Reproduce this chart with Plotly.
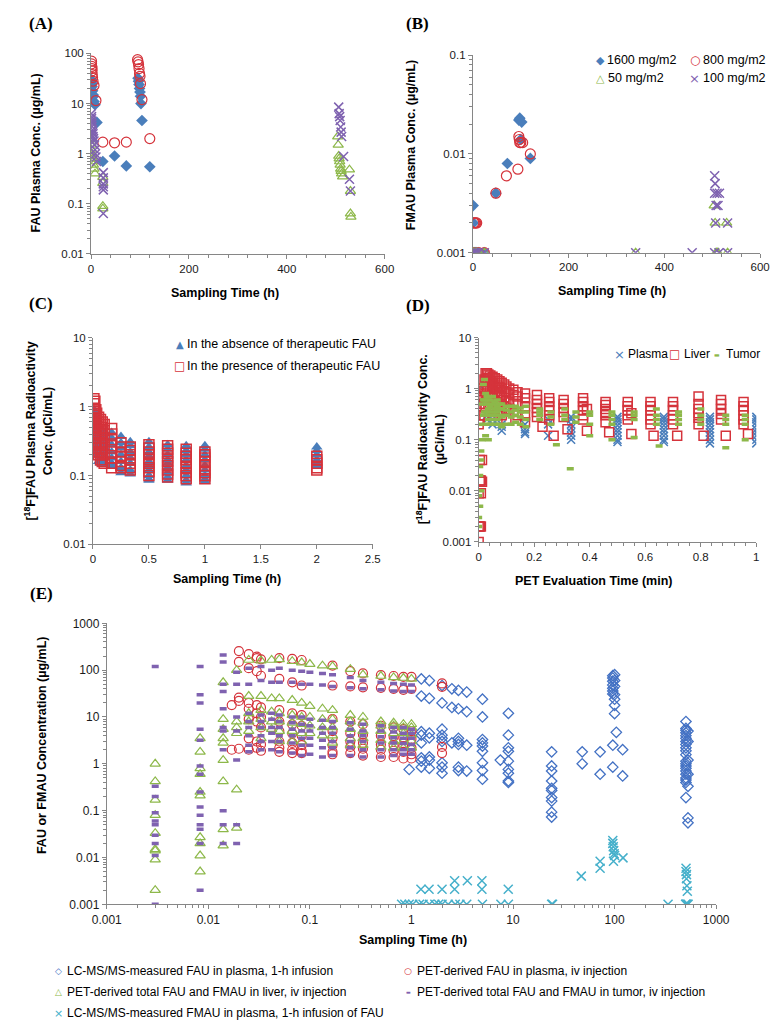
import plotly.graph_objects as go

W, H = 778, 1020
FONT = "Liberation Sans, Arial, sans-serif"

BLUE = "#4a7ebb"
RED = "#d5333b"
GREEN = "#8db84a"
PURPLE = "#7f62b0"
CYAN = "#46b0cb"
AXIS = "#868686"

# ---------------- (A) FAU plasma conc. ----------------
a_1600_t = [0.5, 1, 1.5, 2, 3, 4, 5, 6, 8, 12, 24, 48, 72, 96, 97, 98, 99, 100, 101, 102, 104, 120]
a_1600_y = [30, 27, 25, 22, 18, 15, 14, 11, 9.5, 4.2, 0.7, 0.9, 0.57, 32, 28, 24, 20, 17, 14, 10, 4.6, 0.55]
a_800_t = [1, 1, 1.5, 2, 2, 2.5, 3, 4, 6, 10, 24, 48, 72, 95, 96, 97, 98, 99, 100, 101, 104, 120]
a_800_y = [70, 62, 55, 50, 45, 38, 33, 28, 23, 11.5, 1.7, 1.65, 1.7, 75, 68, 60, 50, 40, 35, 25, 12, 2.0]
a_50_t = [0.5, 1, 1, 2, 2, 3, 4, 5, 6, 8, 24, 24, 24, 24,
          504, 505, 506, 507, 508, 509, 510, 511, 512, 514, 528, 530, 530, 531]
a_50_y = [2.0, 1.5, 1.2, 1.0, 0.9, 0.8, 0.7, 0.6, 0.5, 0.4, 0.34, 0.26, 0.09, 0.08,
          2.2, 1.5, 0.9, 0.8, 0.7, 0.6, 0.5, 0.45, 0.4, 0.35, 0.48, 0.18, 0.064, 0.055]
a_100_t = [0.5, 1, 1, 1.5, 2, 2, 3, 3, 4, 4, 5, 6, 7, 8, 9, 10, 11,
           25, 25, 25, 25, 25, 25, 506, 507, 508, 509, 510, 511, 512, 516, 528, 530]
a_100_y = [6.3, 5.5, 5.0, 4.5, 4.0, 3.5, 3.0, 2.7, 2.5, 2.2, 2.0, 1.8, 1.5, 1.2, 1.0, 0.86, 0.7,
           0.42, 0.33, 0.25, 0.22, 0.19, 0.064, 8.5, 6.3, 5.5, 4.6, 3.4, 2.7, 2.2, 0.88, 0.31, 0.18]

# ---------------- (B) FMAU plasma conc. ----------------
b_1600_t = [0.5, 1, 2, 4, 6, 8, 12, 24, 48, 72, 96, 98, 100, 102, 120]
b_1600_y = [0.003, 0.002, 0.001, 0.001, 0.001, 0.001, 0.001, 0.001, 0.004, 0.008, 0.022, 0.023, 0.014, 0.021, 0.009]
b_800_t = [2, 4, 6, 8, 1, 12, 24, 48, 70, 94, 96, 97, 98, 100, 104, 120]
b_800_y = [0.002, 0.002, 0.002, 0.002, 0.001, 0.001, 0.001, 0.004, 0.006, 0.007, 0.015, 0.014, 0.013, 0.013, 0.013, 0.01]
b_50_t = [1, 2, 4, 8, 12, 24, 340, 504, 506, 508, 510, 512, 530, 532]
b_50_y = [0.001, 0.001, 0.001, 0.001, 0.001, 0.001, 0.001, 0.003, 0.002, 0.001, 0.001, 0.001, 0.002, 0.001]
b_100_t = [1, 2, 4, 8, 12, 24, 340, 458, 505, 506, 505, 510, 515, 508, 512, 507, 505, 514, 532, 532]
b_100_y = [0.001, 0.001, 0.001, 0.001, 0.001, 0.001, 0.001, 0.001, 0.006, 0.005, 0.004, 0.004, 0.004,
           0.003, 0.003, 0.002, 0.001, 0.001, 0.002, 0.001]

# ---------------- (C) [18F]FAU plasma radioactivity ----------------
c_t = [0.0083, 0.0167, 0.025, 0.033, 0.05, 0.067, 0.083, 0.1, 0.167, 0.25, 0.333, 0.5, 0.667, 0.833, 1.0, 2.0]
c_absent = [
    [0.9, 0.7, 0.5, 0.35, 0.25, 0.22],
    [0.8, 0.6, 0.45, 0.35, 0.28, 0.2],
    [0.7, 0.55, 0.42, 0.3, 0.22],
    [0.6, 0.5, 0.4, 0.3, 0.2],
    [0.55, 0.45, 0.35, 0.28, 0.2, 0.16],
    [0.5, 0.4, 0.32, 0.25, 0.18, 0.15],
    [0.45, 0.38, 0.3, 0.22, 0.17, 0.15],
    [0.4, 0.32, 0.26, 0.2, 0.15],
    [0.42, 0.35, 0.28, 0.22, 0.18, 0.15, 0.14],
    [0.37, 0.3, 0.25, 0.2, 0.16, 0.13, 0.11],
    [0.31, 0.27, 0.22, 0.18, 0.15, 0.12, 0.105],
    [0.31, 0.26, 0.22, 0.19, 0.16, 0.14, 0.12, 0.1, 0.088, 0.085],
    [0.28, 0.24, 0.2, 0.17, 0.15, 0.13, 0.11, 0.095, 0.085],
    [0.27, 0.23, 0.2, 0.17, 0.14, 0.12, 0.1, 0.085, 0.078],
    [0.27, 0.24, 0.2, 0.17, 0.14, 0.12, 0.1, 0.088, 0.082],
    [0.26, 0.23, 0.2, 0.17, 0.15, 0.14],
]
c_present = [
    [1.3, 1.1, 0.95, 0.8, 0.65, 0.5],
    [1.2, 0.9, 0.75, 0.6, 0.5, 0.4, 0.3],
    [0.9, 0.75, 0.6, 0.5, 0.4, 0.3, 0.25],
    [0.8, 0.65, 0.55, 0.45, 0.35, 0.28, 0.22],
    [0.7, 0.6, 0.5, 0.4, 0.3, 0.25, 0.2],
    [0.65, 0.55, 0.45, 0.35, 0.28, 0.22, 0.17],
    [0.6, 0.5, 0.4, 0.3, 0.25, 0.2, 0.16],
    [0.55, 0.45, 0.35, 0.28, 0.2, 0.15],
    [0.48, 0.4, 0.33, 0.27, 0.22, 0.18, 0.15, 0.13],
    [0.3, 0.26, 0.22, 0.19, 0.16, 0.14, 0.13],
    [0.26, 0.23, 0.2, 0.17, 0.15, 0.13, 0.12],
    [0.28, 0.25, 0.22, 0.2, 0.17, 0.15, 0.13, 0.115, 0.1],
    [0.27, 0.24, 0.21, 0.18, 0.16, 0.14, 0.12, 0.105, 0.095],
    [0.24, 0.21, 0.19, 0.17, 0.15, 0.13, 0.11, 0.1, 0.09],
    [0.22, 0.2, 0.18, 0.16, 0.14, 0.12, 0.11, 0.1, 0.09],
    [0.19, 0.17, 0.15, 0.13, 0.12],
]

# ---------------- (D) PET radioactivity ----------------
d_plasma_t = [0.021, 0.03, 0.05, 0.083, 0.167, 0.25, 0.333, 0.5, 0.667, 0.833, 1.0]
d_plasma = [
    [1.2, 1.5],
    [0.25, 0.3],
    [0.2, 0.25],
    [0.15, 0.18, 0.2],
    [0.13, 0.14, 0.16, 0.2],
    [0.12, 0.2, 0.25],
    [0.1, 0.12, 0.14, 0.17, 0.2, 0.25, 0.28],
    [0.09, 0.1, 0.12, 0.14, 0.16, 0.19, 0.22, 0.25, 0.28],
    [0.09, 0.1, 0.12, 0.14, 0.16, 0.19, 0.22, 0.25, 0.28],
    [0.085, 0.1, 0.12, 0.14, 0.16, 0.19, 0.22, 0.25, 0.28],
    [0.085, 0.1, 0.12, 0.14, 0.16, 0.19, 0.22, 0.25, 0.28],
]
d_liver_t = [0.0, 0.004, 0.008, 0.012, 0.017, 0.021, 0.025, 0.03, 0.035, 0.042, 0.05, 0.058, 0.067,
             0.075, 0.083, 0.092, 0.1, 0.11, 0.125, 0.14, 0.167, 0.21, 0.23, 0.254, 0.27, 0.306, 0.32,
             0.376, 0.39, 0.457, 0.47, 0.537, 0.55, 0.619, 0.63, 0.70, 0.715, 0.792, 0.81, 0.873, 0.89,
             0.954, 0.97]
d_liver = [
    [0.001, 0.002, 0.009, 0.2], [0.002, 0.016, 0.04, 0.25], [0.002, 0.009, 0.016, 0.5],
    [0.04, 0.015, 0.7], [1.0, 0.6, 0.3], [1.5, 0.9, 0.5, 0.3], [2.0, 1.4, 0.8, 0.45],
    [2.0, 1.6, 1.0, 0.6], [1.9, 1.5, 1.1, 0.7, 0.5], [1.8, 1.4, 1.0, 0.7, 0.45],
    [1.7, 1.3, 0.9, 0.65, 0.45], [1.6, 1.2, 0.85, 0.6, 0.4], [1.5, 1.1, 0.8, 0.55, 0.35],
    [1.4, 1.05, 0.75, 0.5, 0.35], [1.3, 1.0, 0.7, 0.5, 0.3], [1.2, 0.9, 0.65, 0.45],
    [1.1, 0.85, 0.6, 0.4, 0.25], [1.0, 0.8, 0.55, 0.4], [0.95, 0.75, 0.5, 0.35],
    [0.85, 0.7, 0.5, 0.3], [0.8, 0.65, 0.45, 0.3, 0.22],
    [0.75, 0.6, 0.5, 0.42, 0.35, 0.28], [0.18],
    [0.65, 0.55, 0.45, 0.38, 0.3, 0.25], [0.12],
    [0.6, 0.5, 0.42, 0.35, 0.28], [0.16],
    [0.65, 0.55, 0.45, 0.38, 0.3, 0.25], [0.4, 0.15],
    [0.55, 0.48, 0.4, 0.35, 0.3, 0.22], [0.14],
    [0.55, 0.45, 0.38, 0.3, 0.25], [0.33, 0.13],
    [0.55, 0.45, 0.38, 0.3, 0.25, 0.2], [0.12],
    [0.55, 0.45, 0.38, 0.3, 0.25, 0.2], [0.12],
    [0.7, 0.5, 0.4, 0.33, 0.27, 0.2], [0.12],
    [0.6, 0.5, 0.4, 0.32, 0.25], [0.12],
    [0.55, 0.45, 0.38, 0.3, 0.25, 0.2], [0.13],
]
d_tumor_t = [0.0, 0.004, 0.008, 0.012, 0.017, 0.021, 0.025, 0.03, 0.035, 0.042, 0.05, 0.058, 0.067,
             0.075, 0.083, 0.1, 0.117, 0.133, 0.15, 0.17, 0.22, 0.26, 0.28, 0.31, 0.33, 0.35, 0.40,
             0.48, 0.56, 0.64, 0.65, 0.72, 0.80, 0.89, 0.96]
d_tumor = [
    [0.002, 0.003, 0.008], [0.005, 0.02, 0.03], [0.01, 0.04, 0.06], [0.1, 0.2, 0.5],
    [0.3, 0.6, 1.2], [0.35, 0.6, 1.5], [0.12, 0.3, 0.5, 0.8], [0.2, 0.35, 0.5, 0.7],
    [0.1, 0.25, 0.4, 0.6], [0.2, 0.3, 0.45, 0.6], [0.25, 0.35, 0.5, 0.7],
    [0.2, 0.3, 0.4, 0.55], [0.25, 0.35, 0.45, 0.6], [0.2, 0.3, 0.4, 0.5],
    [0.18, 0.28, 0.4, 0.5], [0.2, 0.3, 0.38, 0.45], [0.2, 0.28, 0.35, 0.45],
    [0.22, 0.3, 0.38, 0.45], [0.2, 0.28, 0.35, 0.42], [0.18, 0.25, 0.35, 0.45],
    [0.25, 0.3, 0.35, 0.4], [0.2, 0.28, 0.35], [0.08], [0.25, 0.3, 0.4], [0.027],
    [0.22, 0.28, 0.35], [0.12, 0.2, 0.3, 0.35], [0.1, 0.2, 0.25, 0.3, 0.35],
    [0.11, 0.25, 0.3, 0.35], [0.2, 0.25, 0.3, 0.4], [0.075], [0.2, 0.25, 0.3, 0.35],
    [0.2, 0.25, 0.3, 0.4], [0.07, 0.2, 0.25, 0.3], [0.1, 0.2, 0.25, 0.3],
]

# ---------------- (E) combined ----------------
e_lc_t = [0.95, 1.25, 1.5, 2.0, 2.5, 2.9, 3.5, 5.0, 7.5, 9.0, 24, 48, 72, 96, 100, 104, 120, 504, 528]
e_lc = [
    [0.76],
    [65, 28, 4.85, 4.1, 2.8, 1.34, 1.14, 0.85],
    [60, 25, 4.5, 3.6, 1.4, 1.2, 0.8],
    [47, 20, 5.5, 4.1, 3.5, 3.0, 1.05, 0.85, 0.63],
    [40, 16, 2.8],
    [37, 15, 3.5, 3.0, 2.6, 0.85, 0.72],
    [34, 13, 2.5, 0.7],
    [24, 10, 3.3, 2.8, 2.4, 1.85, 1.05, 0.72, 0.47],
    [1.2],
    [12, 4.1, 2.2, 1.85, 1.14, 0.76, 0.63, 0.43, 0.4],
    [1.8, 0.9, 0.7, 0.43, 0.3, 0.27, 0.19, 0.16, 0.093, 0.073],
    [1.8, 1.0],
    [1.8, 0.6],
    [76, 68, 58, 48, 41, 36, 31, 2.5, 0.85],
    [80, 60, 45, 30, 24, 17.8, 11.8],
    [4.7],
    [2.0, 0.55],
    [8, 5.7, 5.2, 4.6, 4.0, 3.5, 3.0, 2.6, 2.2, 1.9, 1.57, 1.14, 1.0, 0.9, 0.8, 0.7, 0.6, 0.5, 0.45, 0.4, 0.19],
    [5, 3, 1.2, 0.6, 0.33, 0.07, 0.055],
]
e_plasma_t = [0.017, 0.02, 0.025, 0.03, 0.033, 0.05, 0.067, 0.083, 0.167, 0.25, 0.333, 0.5, 0.667, 0.833, 1.0, 2.0]
e_plasma = [
    [18, 2.0],
    [255, 150, 26, 22, 2.1],
    [220, 110, 20, 15, 9, 3.5, 2.0],
    [195, 180, 95, 18, 12, 8, 3, 2.2],
    [170, 76, 16, 10, 6, 2.6, 1.9],
    [180, 65, 14, 8, 5, 3, 2.2, 1.8],
    [175, 55, 12, 7, 4.5, 2.8, 2.0, 1.7],
    [165, 47, 11, 6.5, 4, 2.5, 1.9, 1.7],
    [125, 47, 9, 5, 3.5, 2.5, 1.8, 1.6],
    [95, 45, 8, 4.5, 3, 2.3, 1.7],
    [85, 43, 7, 4.2, 2.8, 2.1, 1.5],
    [78, 42, 6.5, 4, 2.6, 2.0, 1.4],
    [75, 40, 6, 3.8, 2.5, 1.9, 1.4],
    [72, 38, 5.5, 3.6, 2.4, 1.8, 1.3],
    [72, 40, 5, 3.4, 2.2, 1.6, 1.3],
    [52, 44, 2.3, 1.7],
]
e_pet_t = [0.003, 0.0083, 0.014, 0.019, 0.025, 0.033, 0.042, 0.05, 0.067, 0.083, 0.1, 0.133, 0.167,
           0.25, 0.333, 0.5, 0.667, 0.833, 1.0]
e_liver = [
    [1.0, 0.42, 0.17, 0.08, 0.033, 0.015, 0.014, 0.009, 0.002],
    [3.5, 1.8, 0.8, 0.6, 0.25, 0.21, 0.027, 0.02, 0.011, 0.005],
    [55, 9, 5.5, 3.5, 2.8, 1.2, 0.42, 0.04, 0.018],
    [100, 8, 6, 4.5, 0.28, 0.043],
    [165, 28, 12, 8, 5],
    [160, 28, 14, 9, 6, 3.5],
    [165, 25, 13, 8, 5.5],
    [170, 25, 12, 8, 5, 3],
    [155, 23, 11, 7.5, 5, 3],
    [145, 20, 10, 7, 4.5, 3],
    [135, 17, 10, 6.5, 4.5],
    [125, 15, 9, 6, 4],
    [120, 14, 9, 6, 4, 2.8],
    [105, 11, 8, 5.5, 3.5, 2.5],
    [80, 10, 7.5, 5, 3.5, 2.5],
    [75, 8, 6.5, 5, 3.2, 2.3],
    [70, 7.5, 6.5, 4.5, 3, 2.2],
    [68, 7, 6, 4.5, 3, 2.2],
    [65, 7, 6, 4.2, 3, 2.2],
]
e_tumor = [
    [120, 0.33, 0.2, 0.09, 0.06, 0.05, 0.03, 0.02, 0.011, 0.001],
    [120, 30, 20, 5.5, 3.2, 0.9, 0.6, 0.25, 0.12, 0.08, 0.05, 0.04, 0.02, 0.002],
    [210, 150, 50, 35, 15, 6, 5, 2, 0.1, 0.05, 0.02],
    [90, 50, 10, 5, 1.2, 0.05, 0.02],
    [110, 50, 12, 8, 6, 4, 2.5, 1.8],
    [120, 60, 11, 8, 6, 4, 3, 2],
    [100, 55, 12, 9, 6, 4.5, 3, 2],
    [110, 55, 11, 8, 6, 4, 3, 1.8],
    [100, 55, 10, 7.5, 5.5, 4, 2.8, 1.7],
    [95, 50, 10, 7, 5, 3.5, 2.5, 1.5],
    [90, 50, 9, 6.5, 5, 3.5, 2.5, 1.6],
    [85, 48, 8.5, 6, 4.5, 3.2, 2.2, 1.4],
    [80, 45, 8, 6, 4.5, 3, 2.2, 1.5],
    [70, 42, 7.5, 5.5, 4, 3, 2.2, 1.5],
    [60, 40, 7, 5, 4, 3, 2, 1.4],
    [55, 38, 6.5, 5, 3.8, 2.8, 2, 1.4],
    [52, 36, 6, 4.8, 3.6, 2.8, 2, 1.5],
    [50, 35, 6, 4.5, 3.5, 2.7, 2, 1.6],
    [48, 35, 5.5, 4.5, 3.5, 2.6, 2, 1.6],
]
e_fmau_t = [0.8, 0.86, 0.95, 1.03, 1.2, 1.3, 1.5, 1.7, 1.85, 2.0, 2.3, 2.7, 3.0, 3.5, 5.0, 7.6, 9.0, 24, 24.5,
            1.24, 1.49, 2.0, 2.66, 4.94, 8.97, 2.66, 3.55, 4.94, 47, 72, 72,
            96, 96, 97, 98, 99, 100, 97.5, 121, 336, 500, 505, 510, 520, 530,
            505, 505, 510, 510, 515, 520]
e_fmau_y = [0.001, 0.001, 0.001, 0.001, 0.001, 0.001, 0.001, 0.001, 0.001, 0.001, 0.001, 0.001, 0.001,
            0.001, 0.001, 0.001, 0.001, 0.001, 0.001,
            0.0021, 0.0021, 0.0021, 0.0021, 0.0021, 0.0021, 0.0032, 0.0032, 0.0032, 0.004, 0.0083, 0.0059,
            0.023, 0.02, 0.017, 0.014, 0.012, 0.011, 0.0083, 0.0098, 0.001, 0.001, 0.001, 0.001, 0.001, 0.001,
            0.0059, 0.005, 0.0043, 0.0035, 0.0025, 0.0019]


def flat(ts, groups):
    xs, ys = [], []
    for t, vals in zip(ts, groups):
        for v in vals:
            xs.append(t)
            ys.append(v)
    return xs, ys


fig = go.Figure()


def add(x, y, ax, symbol, color, size, lw=1.2, filled=False):
    if filled:
        marker = dict(symbol=symbol, size=size, color=color, line=dict(width=0))
    else:
        marker = dict(symbol=symbol, size=size, color=color, line=dict(color=color, width=lw))
    fig.add_trace(go.Scatter(x=x, y=y, mode="markers", marker=marker, showlegend=False,
                             xaxis="x" + ax, yaxis="y" + ax, hoverinfo="x+y"))


# A
add(a_1600_t, a_1600_y, "", "diamond", BLUE, 9, filled=True)
add(a_800_t, a_800_y, "", "circle-open", RED, 10)
add(a_50_t, a_50_y, "", "triangle-up-open", GREEN, 9)
add(a_100_t, a_100_y, "", "x-thin-open", PURPLE, 9, lw=1.5)
# B
add(b_1600_t, b_1600_y, "2", "diamond", BLUE, 9, filled=True)
add(b_800_t, b_800_y, "2", "circle-open", RED, 10)
add(b_50_t, b_50_y, "2", "triangle-up-open", GREEN, 9)
add(b_100_t, b_100_y, "2", "x-thin-open", PURPLE, 9, lw=1.5)
# C
cx, cy = flat(c_t, c_absent)
add(cx, cy, "3", "triangle-up", BLUE, 10, filled=True)
cx, cy = flat(c_t, c_present)
add(cx, cy, "3", "square-open", RED, 10, lw=1.5)
# D
dx, dy = flat(d_plasma_t, d_plasma)
add(dx, dy, "4", "x-thin-open", BLUE, 8, lw=1.5)
dx, dy = flat(d_liver_t, d_liver)
add(dx, dy, "4", "square-open", RED, 9, lw=1.5)
dx, dy = flat(d_tumor_t, d_tumor)
add(dx, dy, "4", "line-ew-open", GREEN, 5, lw=3.5)
# E
ex, ey = flat(e_lc_t, e_lc)
add(ex, ey, "5", "diamond-open", "#4472c4", 8, lw=1.3)
ex, ey = flat(e_plasma_t, e_plasma)
add(ex, ey, "5", "circle-open", RED, 9)
ex, ey = flat(e_pet_t, e_liver)
add(ex, ey, "5", "triangle-up-open", GREEN, 9)
ex, ey = flat(e_pet_t, e_tumor)
add(ex, ey, "5", "line-ew-open", PURPLE, 5, lw=3.5)
add(e_fmau_t, e_fmau_y, "5", "x-thin-open", CYAN, 9, lw=1.5)

tickfont = dict(family=FONT, size=11.5, color="#1a1a1a")


def xlin(domain, rng, dtick, minor_dtick=None, anchor="y"):
    d = dict(domain=domain, range=rng, dtick=dtick, tick0=0, showline=True, linecolor=AXIS,
             ticks="outside", ticklen=4, tickcolor=AXIS, showgrid=False, zeroline=False,
             tickfont=tickfont, anchor=anchor)
    if minor_dtick:
        d["minor"] = dict(dtick=minor_dtick, ticks="outside", ticklen=3, tickcolor=AXIS, showgrid=False)
    return d


def xylog(domain, lo, hi, anchor):
    vals = [10 ** k for k in range(lo, hi + 1)]
    text = [("%g" % v) if v >= 1 else ("%." + str(-k) + "f") % v for k, v in zip(range(lo, hi + 1), vals)]
    return dict(domain=domain, type="log", range=[lo, hi], tickmode="array", tickvals=vals, ticktext=text,
                showline=True, linecolor=AXIS, ticks="outside", ticklen=4, tickcolor=AXIS,
                showgrid=False, zeroline=False, tickfont=tickfont, anchor=anchor,
                minor=dict(dtick="D1", ticks="outside", ticklen=3, tickcolor=AXIS, showgrid=False))


def dom(p0, p1, size):
    return [p0 / size, p1 / size]


def ydom(top, bottom):
    return [1 - bottom / H, 1 - top / H]


fig.update_layout(
    width=W, height=H, margin=dict(l=0, r=0, t=0, b=0),
    paper_bgcolor="white", plot_bgcolor="white",
    font=dict(family=FONT, color="#1a1a1a"),
    xaxis=xlin(dom(70.7, 375.7, W), [0, 600], 200, 40, "y"),
    yaxis=xylog(ydom(39, 242.3), -2, 2, "x"),
    xaxis2=xlin(dom(467.3, 765.7, W), [0, 600], 200, 40, "y2"),
    yaxis2=xylog(ydom(40.7, 241), -3, -1, "x2"),
    xaxis3=xlin(dom(72.7, 363.3, W), [0, 2.5], 0.5, None, "y3"),
    yaxis3=xylog(ydom(327.3, 536.7), -2, 1, "x3"),
    xaxis4=xlin(dom(473.3, 761.7, W), [0, 1], 0.2, 0.04, "y4"),
    yaxis4=xylog(ydom(327, 534.3), -3, 1, "x4"),
    xaxis5=xylog(dom(87, 720, W), -3, 3, "y5"),
    yaxis5=xylog(ydom(616.8, 901.7), -3, 3, "x5"),
)
fig.layout.xaxis5.tickfont = dict(family=FONT, size=12, color="#1a1a1a")
fig.layout.yaxis5.tickfont = dict(family=FONT, size=12, color="#1a1a1a")

ann = []


def note(text, px, py, size=12.5, bold=False, angle=0, xanchor="center", color="#000", family=FONT):
    if bold:
        text = "<b>" + text + "</b>"
    ann.append(dict(text=text, x=px / W, y=1 - py / H, xref="paper", yref="paper", showarrow=False,
                    xanchor=xanchor, yanchor="middle", textangle=angle,
                    font=dict(family=family, size=size, color=color)))


# panel letters
for lab, px, py in [("(A)", 19, 9), ("(B)", 410, 9), ("(C)", 19, 293), ("(D)", 410, 295), ("(E)", 19, 587)]:
    note(lab, px, py, size=17, bold=True, family="Liberation Serif, Times New Roman, serif")

# axis titles
note("Sampling Time (h)", 210, 282, bold=True)
note("FAU Plasma Conc. (µg/mL)", 14, 140, bold=True, angle=-90)
note("Sampling Time (h)", 612, 280, bold=True)
note("FMAU Plasma Conc. (µg/mL)", 403, 132, bold=True, angle=-90)
note("Sampling Time (h)", 212, 572, bold=True)
note("[<sup>18</sup>F]FAU Plasma Radioactivity<br>Conc. (µCi/mL)", 16, 422, bold=True, angle=-90)
note("PET Evaluation Time (min)", 593, 574, bold=True)
note("[<sup>18</sup>F]FAU Radioactivity Conc.<br>(µCi/mL)", 423, 430, bold=True, angle=-90)
note("Sampling Time (h)", 405, 938, bold=True)
note("FAU or FMAU Concentration (µg/mL)", 20, 740, bold=True, angle=-90)

# legends
GLY = "DejaVu Sans, sans-serif"
# B
note("◆", 600, 46, size=11, color=BLUE, family=GLY)
note("1600 mg/m2", 605, 46, size=12.5, xanchor="left")
note("○", 698, 46, size=12, color=RED, family=GLY)
note("800 mg/m2", 704, 46, size=12.5, xanchor="left")
note("△", 600, 64, size=11, color=GREEN, family=GLY)
note("50 mg/m2", 606, 64, size=12.5, xanchor="left")
note("×", 698, 64, size=13, color=PURPLE, family=GLY)
note("100 mg/m2", 704, 64, size=12.5, xanchor="left")
# C
note("▲", 163, 334, size=10, color=BLUE, family=GLY)
note("In the absence of therapeutic FAU", 168, 334, size=12.5, xanchor="left")
note("□", 163, 356, size=12, color=RED, family=GLY)
note("In the presence of therapeutic FAU", 168, 356, size=12.5, xanchor="left")
# D
note("×", 620, 344, size=13, color=BLUE, family=GLY)
note("Plasma", 626, 344, size=12, xanchor="left")
note("□", 677, 344, size=12, color=RED, family=GLY)
note("Liver", 684, 344, size=12, xanchor="left")
note("▬", 721, 344, size=6, color=GREEN, family=GLY)
note("Tumor", 728, 344, size=12, xanchor="left")
# E
note("◇", 37, 969, size=9, color="#4472c4", family=GLY)
note("LC-MS/MS-measured FAU in plasma, 1-h infusion", 44, 969, size=12, xanchor="left")
note("○", 400, 969, size=9, color=RED, family=GLY)
note("PET-derived FAU in plasma, iv injection", 407, 969, size=12, xanchor="left")
note("△", 37, 991, size=9, color=GREEN, family=GLY)
note("PET-derived total FAU and FMAU in liver, iv injection", 44, 991, size=12, xanchor="left")
note("▬", 400, 991, size=5, color=PURPLE, family=GLY)
note("PET-derived total FAU and FMAU in tumor, iv injection", 407, 991, size=12, xanchor="left")
note("×", 37, 1012, size=11, color=CYAN, family=GLY)
note("LC-MS/MS-measured FMAU in plasma, 1-h infusion of FAU", 44, 1012, size=12, xanchor="left")

fig.update_layout(annotations=ann)
fig.write_html("out.html")
